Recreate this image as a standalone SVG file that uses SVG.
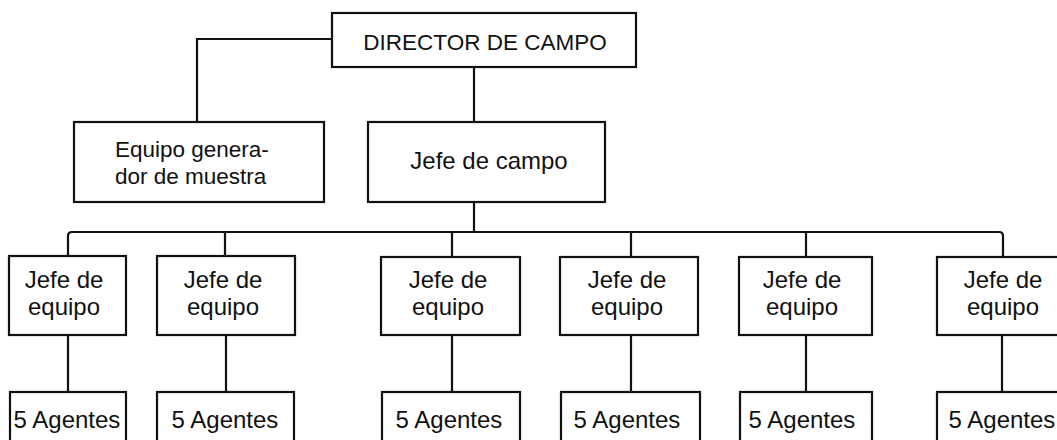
<svg xmlns="http://www.w3.org/2000/svg" width="1057" height="440" viewBox="0 0 1057 440">
<style>
.box{fill:#fff;stroke:#111;stroke-width:2.2}
.ln{fill:none;stroke:#111;stroke-width:2.2}
text{font-family:"Liberation Sans",Arial,Helvetica,sans-serif;font-size:24px;fill:#111}
.c{text-anchor:middle}
.d{font-size:22.5px}
</style>
<rect width="1057" height="440" fill="#fff"/>
<g id="connectors">
<path class="ln" d="M332,39 H197 V122"/>
<path class="ln" d="M474,67 V122"/>
<path class="ln" d="M474,202 V232"/>
<path class="ln" d="M68,256 V236 Q68,232 72,232 H999 Q1003,232 1003,236 V257"/>
<path class="ln" d="M225,232 V256 M452,232 V257 M631,232 V257 M806,232 V257"/>
<path class="ln" d="M68,335 V392 M226,335 V392 M452,335 V392 M631,335 V392 M806,335 V392 M1002,335 V392"/>
</g>
<g id="director">
<rect class="box" x="332" y="13" width="304" height="54"/>
<text class="c d" x="485" y="50">DIRECTOR DE CAMPO</text>
</g>
<g id="equipo-generador">
<rect class="box" x="74" y="122" width="250" height="80"/>
<text class="d" x="115" y="157">Equipo genera-</text>
<text class="d" x="115" y="184">dor de muestra</text>
</g>
<g id="jefe-campo">
<rect class="box" x="368" y="122" width="237" height="80"/>
<text class="c" x="489" y="169">Jefe de campo</text>
</g>
<g id="jefe-equipo-1">
<rect class="box" x="9" y="256" width="117" height="79"/>
<text class="c" x="64" y="288">Jefe de</text>
<text class="c" x="64" y="315">equipo</text>
</g>
<g id="jefe-equipo-2">
<rect class="box" x="157" y="256" width="138" height="79"/>
<text class="c" x="223" y="288">Jefe de</text>
<text class="c" x="223" y="315">equipo</text>
</g>
<g id="jefe-equipo-3">
<rect class="box" x="381" y="257" width="139" height="78"/>
<text class="c" x="448" y="288">Jefe de</text>
<text class="c" x="448" y="315">equipo</text>
</g>
<g id="jefe-equipo-4">
<rect class="box" x="560" y="257" width="138" height="78"/>
<text class="c" x="627" y="288">Jefe de</text>
<text class="c" x="627" y="315">equipo</text>
</g>
<g id="jefe-equipo-5">
<rect class="box" x="739" y="257" width="133" height="78"/>
<text class="c" x="802" y="288">Jefe de</text>
<text class="c" x="802" y="315">equipo</text>
</g>
<g id="jefe-equipo-6">
<rect class="box" x="937" y="257" width="132" height="78"/>
<text class="c" x="1003" y="288">Jefe de</text>
<text class="c" x="1003" y="315">equipo</text>
</g>
<g id="agentes-1">
<rect class="box" x="10" y="392" width="116" height="60"/>
<text class="c" x="67" y="428">5 Agentes</text>
</g>
<g id="agentes-2">
<rect class="box" x="157" y="392" width="137" height="60"/>
<text class="c" x="225" y="428">5 Agentes</text>
</g>
<g id="agentes-3">
<rect class="box" x="382" y="392" width="138" height="60"/>
<text class="c" x="449" y="428">5 Agentes</text>
</g>
<g id="agentes-4">
<rect class="box" x="561" y="392" width="139" height="60"/>
<text class="c" x="627" y="428">5 Agentes</text>
</g>
<g id="agentes-5">
<rect class="box" x="740" y="392" width="132" height="60"/>
<text class="c" x="802" y="428">5 Agentes</text>
</g>
<g id="agentes-6">
<rect class="box" x="937" y="392" width="132" height="60"/>
<text class="c" x="1002" y="428">5 Agentes</text>
</g>
</svg>
